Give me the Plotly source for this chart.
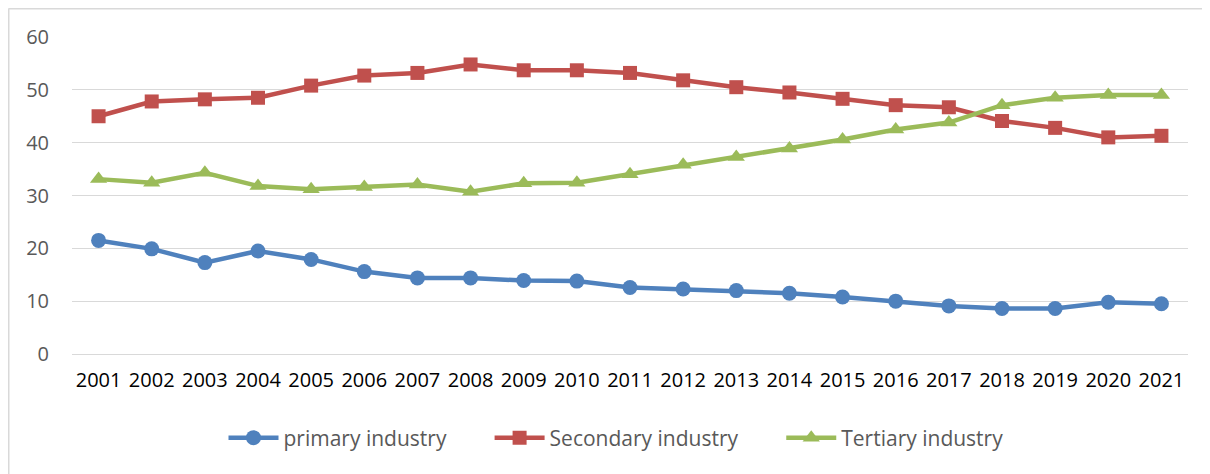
import plotly.graph_objects as go

years = [str(y) for y in range(2001, 2022)]
primary = [21.5, 19.9, 17.3, 19.5, 17.9, 15.6, 14.4, 14.4, 13.9, 13.8, 12.6,
           12.3, 12.0, 11.5, 10.8, 10.0, 9.1, 8.6, 8.6, 9.8, 9.5]
secondary = [45.0, 47.8, 48.2, 48.5, 50.8, 52.7, 53.2, 54.8, 53.7, 53.7, 53.2,
             51.8, 50.5, 49.5, 48.3, 47.1, 46.7, 44.1, 42.8, 41.0, 41.3]
tertiary = [33.1, 32.4, 34.3, 31.8, 31.2, 31.6, 32.1, 30.7, 32.3, 32.4, 34.0,
            35.8, 37.3, 38.9, 40.6, 42.5, 43.8, 47.1, 48.5, 49.0, 49.0]

# page body has an 8px margin, so the figure is sized to fit the window
W, H = 1202, 466
ML, MR, MT, MB = 64, 22, 29, 120
PW, PH = W - ML - MR, H - MT - MB

GAP = '\u00a0' * 7  # extra spacing between legend entries

def add_series(fig, y, name, color, symbol, size):
    fig.add_trace(go.Scatter(
        x=years, y=y, name=name, mode='lines+markers',
        line=dict(color=color, width=4.5),
        marker=dict(symbol=symbol, size=size, color=color),
    ))

fig = go.Figure()
add_series(fig, primary, 'primary industry' + GAP, '#4F81BD', 'circle', 15)
add_series(fig, secondary, 'Secondary industry' + GAP, '#C0504D', 'square', 14)
add_series(fig, tertiary, 'Tertiary industry', '#9BBB59', 'triangle-up', 15)

fig.update_yaxes(
    range=[0, 60], dtick=10, showgrid=True, gridcolor='#D9D9D9', gridwidth=1,
    zeroline=True, zerolinecolor='#D9D9D9', zerolinewidth=1, showline=False,
    ticklabelstandoff=22, tickfont=dict(color='#595959', size=20),
    fixedrange=True
)
fig.update_xaxes(
    showgrid=False, showline=False, zeroline=False,
    ticklabelstandoff=12, tickfont=dict(color='#000000', size=20),
    range=[-0.5, 20.5], fixedrange=True
)

# outer chart border (top and left edges visible)
bx = (0.5 - ML) / PW
by = (H - MB - 0.5) / PH
fig.add_shape(type='line', xref='paper', yref='paper', x0=bx, x1=1.2, y0=by, y1=by,
              line=dict(color='#D9D9D9', width=2))
fig.add_shape(type='line', xref='paper', yref='paper', x0=bx, x1=bx, y0=by, y1=-0.5,
              line=dict(color='#D9D9D9', width=2))

fig.update_layout(
    width=W, height=H,
    margin=dict(l=ML, r=MR, t=MT, b=MB),
    paper_bgcolor='white', plot_bgcolor='white',
    font=dict(family='Open Sans', size=20, color='#595959'),
    showlegend=True,
    legend=dict(orientation='h', x=(608 - ML) / PW, xanchor='center',
                y=(H - MB - 430) / PH, yanchor='middle',
                font=dict(size=21, color='#595959'),
                itemwidth=50, bgcolor='rgba(0,0,0,0)'),
)

fig.write_html("out.html")
